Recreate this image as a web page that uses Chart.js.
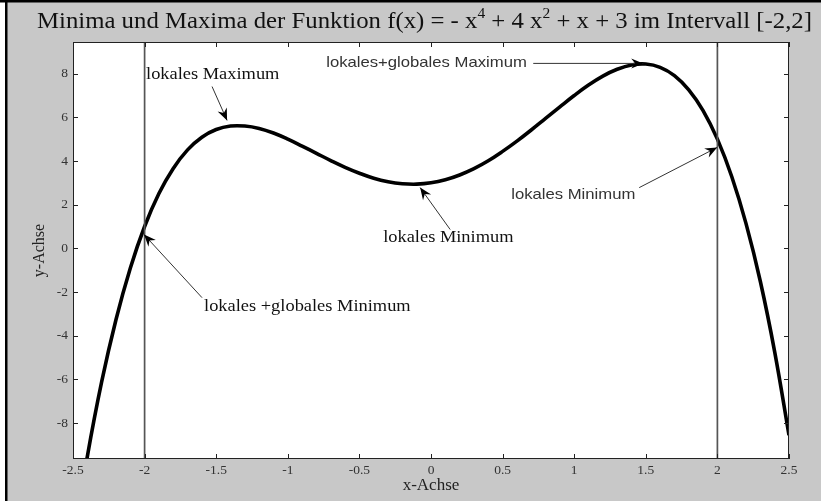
<!DOCTYPE html>
<html>
<head>
<meta charset="utf-8">
<script src="https://cdn.jsdelivr.net/npm/chart.js@4.4.0/dist/chart.umd.min.js"></script>
<style>
  html, body { margin: 0; padding: 0; background: #c8c8c8; }
  canvas { display: block; background: #c8c8c8; }
</style>
</head>
<body>
<canvas id="chart" width="821" height="501"></canvas>
<script>
"use strict";

// f(x) = -x^4 + 4x^2 + x + 3, sampled every 0.1
const xValues = [
  -2.5, -2.4, -2.3, -2.2, -2.1, -2.0, -1.9, -1.8, -1.7, -1.6, -1.5,
  -1.4, -1.3, -1.2, -1.1, -1.0, -0.9, -0.8, -0.7, -0.6, -0.5,
  -0.4, -0.3, -0.2, -0.1, 0.0, 0.1, 0.2, 0.3, 0.4, 0.5,
  0.6, 0.7, 0.8, 0.9, 1.0, 1.1, 1.2, 1.3, 1.4, 1.5,
  1.6, 1.7, 1.8, 1.9, 2.0, 2.1, 2.2, 2.3, 2.4, 2.5,
];
const yValues = [
  -13.56, -9.54, -6.12, -3.27, -0.91, 1.0, 2.51, 3.66, 4.51, 5.09, 5.44,
  5.6, 5.6, 5.49, 5.28, 5.0, 4.68, 4.35, 4.02, 3.71, 3.44,
  3.21, 3.05, 2.96, 2.94, 3.0, 3.14, 3.36, 3.65, 4.01, 4.44,
  4.91, 5.42, 5.95, 6.48, 7.0, 7.48, 7.89, 8.2, 8.4, 8.44,
  8.29, 7.91, 7.26, 6.31, 5.0, 3.29, 1.13, -1.52, -4.74, -8.56,
];
const intervalBounds = [-2, 2];
const xRange = [-2.5, 2.5];
const yRange = [-9.65, 9.45];

const SERIF = "'Liberation Serif', 'Times New Roman', serif";
const SANS = "'Liberation Sans', Arial, sans-serif";
const STRETCH = 1.15;

// text labels with arrows, in data units
const notes = [
  { text: "lokales Maximum", font: "16px " + SERIF, color: "#111", at: [-1.99, 7.97], from: [-1.529, 7.41], to: [-1.424, 5.86] },
  { text: "lokales+globales Maximum", font: "14.5px " + SANS, color: "#333", at: [-0.732, 8.47], from: [0.714, 8.47], to: [1.482, 8.47] },
  { text: "lokales Minimum", font: "14.5px " + SANS, color: "#333", at: [0.56, 2.46], from: [1.454, 2.78], to: [1.998, 4.62] },
  { text: "lokales Minimum", font: "16px " + SERIF, color: "#111", at: [-0.334, 0.49], from: [0.134, 0.86], to: [-0.076, 2.78] },
  { text: "lokales +globales Minimum", font: "16px " + SERIF, color: "#111", at: [-1.585, -2.67], from: [-1.599, -2.26], to: [-2.004, 0.63] },
];

const titleParts = [
  { text: "Minima und Maxima der Funktion f(x) = - x", sup: false },
  { text: "4", sup: true },
  { text: " + 4 x", sup: false },
  { text: "2", sup: true },
  { text: " + x + 3 im Intervall [-2,2]", sup: false },
];

function stretchedText(ctx, text, x, y, font, color) {
  ctx.save();
  ctx.font = font;
  ctx.fillStyle = color;
  ctx.textBaseline = "middle";
  ctx.textAlign = "left";
  ctx.translate(x, y);
  ctx.scale(STRETCH, 1);
  ctx.fillText(text, 0, 0);
  ctx.restore();
}

function arrow(ctx, x0, y0, x1, y1) {
  const ang = Math.atan2(y1 - y0, x1 - x0);
  ctx.save();
  ctx.strokeStyle = "#333";
  ctx.lineWidth = 1;
  ctx.beginPath();
  ctx.moveTo(x0, y0);
  ctx.lineTo(x1, y1);
  ctx.stroke();
  ctx.translate(x1, y1);
  ctx.rotate(ang);
  ctx.fillStyle = "#000";
  ctx.beginPath();
  ctx.moveTo(0, 0);
  ctx.lineTo(-12, -5);
  ctx.lineTo(-8, 0);
  ctx.lineTo(-12, 5);
  ctx.closePath();
  ctx.fill();
  ctx.restore();
}

const framePlugin = {
  id: "frame",
  beforeDraw(chart) {
    const { ctx, chartArea: a } = chart;
    const w = chart.width;
    const h = chart.height;
    ctx.save();
    ctx.fillStyle = "rgb(200, 200, 200)";
    ctx.fillRect(0, 0, w, h);
    ctx.fillStyle = "#fff";
    ctx.fillRect(0, 0, 5, h);
    ctx.fillStyle = "#000";
    ctx.fillRect(0, 0, w, 2.5);
    ctx.fillRect(5, 0, 2.5, h);
    ctx.fillStyle = "#fff";
    ctx.fillRect(a.left, a.top, a.right - a.left, a.bottom - a.top);
    ctx.restore();
  },
  afterDatasetsDraw(chart) {
    const { ctx, chartArea: a, scales } = chart;
    ctx.save();
    ctx.strokeStyle = "#222";
    ctx.lineWidth = 1;
    ctx.strokeRect(a.left + 0.5, a.top + 0.5, a.right - a.left - 1, a.bottom - a.top - 1);
    ctx.beginPath();
    scales.x.ticks.forEach((t) => {
      const px = Math.round(scales.x.getPixelForValue(t.value)) + 0.5;
      ctx.moveTo(px, a.bottom);
      ctx.lineTo(px, a.bottom - 5);
      ctx.moveTo(px, a.top);
      ctx.lineTo(px, a.top + 5);
    });
    scales.y.ticks.forEach((t) => {
      const py = Math.round(scales.y.getPixelForValue(t.value)) + 0.5;
      ctx.moveTo(a.left, py);
      ctx.lineTo(a.left + 5, py);
      ctx.moveTo(a.right, py);
      ctx.lineTo(a.right - 5, py);
    });
    ctx.stroke();
    ctx.restore();

    // annotations
    notes.forEach((n) => {
      const px = (v) => scales.x.getPixelForValue(v);
      const py = (v) => scales.y.getPixelForValue(v);
      arrow(ctx, px(n.from[0]), py(n.from[1]), px(n.to[0]), py(n.to[1]));
      stretchedText(ctx, n.text, px(n.at[0]), py(n.at[1]), n.font, n.color);
    });
  },
  afterDraw(chart) {
    const { ctx } = chart;
    const mainFont = "24px " + SERIF;
    const supFont = "15px " + SERIF;
    const left = 37;
    const right = 812;
    const baseline = 28;
    ctx.save();
    let total = 0;
    titleParts.forEach((p) => {
      ctx.font = p.sup ? supFont : mainFont;
      total += ctx.measureText(p.text).width;
    });
    ctx.translate(left, baseline);
    ctx.scale((right - left) / total, 1);
    ctx.fillStyle = "#111";
    ctx.textBaseline = "alphabetic";
    let x = 0;
    titleParts.forEach((p) => {
      ctx.font = p.sup ? supFont : mainFont;
      ctx.fillText(p.text, x, p.sup ? -10 : 0);
      x += ctx.measureText(p.text).width;
    });
    ctx.restore();
  },
};

const curve = xValues.map((x, i) => ({ x: x, y: yValues[i] }));
const boundLines = intervalBounds.map((b) => ({
  data: [{ x: b, y: yRange[0] }, { x: b, y: yRange[1] }],
  borderColor: "#555",
  borderWidth: 1.7,
  pointRadius: 0,
  tension: 0,
  clip: 0,
}));

new Chart(document.getElementById("chart"), {
  type: "line",
  data: {
    datasets: [
      ...boundLines,
      {
        data: curve,
        borderColor: "#000",
        borderWidth: 3.6,
        pointRadius: 0,
        tension: 0.4,
        clip: 0,
      },
    ],
  },
  options: {
    responsive: false,
    animation: false,
    events: [],
    layout: { padding: { top: 42, right: 32, bottom: 0, left: 0 } },
    elements: { line: { capBezierPoints: false } },
    plugins: {
      legend: { display: false },
      tooltip: { enabled: false },
    },
    scales: {
      x: {
        type: "linear",
        min: xRange[0],
        max: xRange[1],
        grid: { display: false, drawTicks: false },
        border: { display: false },
        ticks: {
          stepSize: 0.5,
          padding: 3,
          color: "#333",
          font: { family: SERIF, size: 13.5 },
          maxRotation: 0,
          autoSkip: false,
          callback: (v) => String(v),
        },
        title: {
          display: true,
          text: "x-Achse",
          color: "#222",
          font: { family: SERIF, size: 17 },
          padding: { top: 0, bottom: 5 },
        },
        afterFit(scale) {
          scale.height = 42;
        },
      },
      y: {
        type: "linear",
        min: yRange[0],
        max: yRange[1],
        grid: { display: false, drawTicks: false },
        border: { display: false },
        ticks: {
          stepSize: 2,
          includeBounds: false,
          padding: 5,
          color: "#333",
          font: { family: SERIF, size: 13.5 },
          callback: (v) => String(v),
        },
        title: {
          display: true,
          text: "y-Achse",
          color: "#222",
          font: { family: SERIF, size: 16 },
          padding: { top: 30, bottom: 0 },
        },
        afterFit(scale) {
          scale.width = 73;
        },
      },
    },
  },
  plugins: [framePlugin],
});
</script>
</body>
</html>
